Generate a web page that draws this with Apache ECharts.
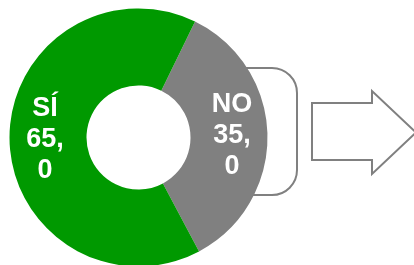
<!DOCTYPE html>
<html>
<head>
<meta charset="utf-8">
<script src="https://cdn.jsdelivr.net/npm/echarts@6/dist/echarts.min.js"></script>
<style>
html,body{margin:0;padding:0;background:#fff;}
#c{width:414px;height:265px;}
</style>
</head>
<body>
<div id="c"></div>
<script>
const categories = ['NO', 'SÍ'];
const values = [35.0, 65.0];
const colors = ['#808080', '#009900'];

const chart = echarts.init(document.getElementById('c'), null, {renderer: 'canvas'});
const data = categories.map((n, i) => ({name: n, value: values[i], itemStyle: {color: colors[i]}}));

chart.setOption({
  animation: false,
  graphic: [
    {
      type: 'rect', z: -10, zlevel: 0,
      shape: {x: 200, y: 68, width: 97, height: 127, r: 25},
      style: {fill: 'none', stroke: '#808080', lineWidth: 2}
    },
    {
      type: 'polygon', z: 10,
      shape: {points: [[312, 103], [372, 103], [372, 91], [416, 132.5], [372, 174], [372, 160], [312, 160]]},
      style: {fill: '#fff', stroke: '#808080', lineWidth: 2}
    }
  ],
  series: [{
    type: 'pie',
    center: [138.5, 137.5],
    radius: [52, 129],
    startAngle: 64,
    clockwise: true,
    silent: true,
    z: 5,
    itemStyle: {borderWidth: 0},
    label: {
      show: true,
      position: 'inside',
      color: '#fff',
      fontFamily: 'Liberation Sans, Arial, sans-serif',
      fontWeight: 'bold',
      fontSize: 27,
      lineHeight: 31,
      align: 'center',
      formatter: p => {
        const s = p.value.toFixed(1).split('.');
        return p.name + '\n' + s[0] + ',\n' + s[1];
      }
    },
    labelLine: {show: false},
    data: data
  }]
});
</script>
</body>
</html>
